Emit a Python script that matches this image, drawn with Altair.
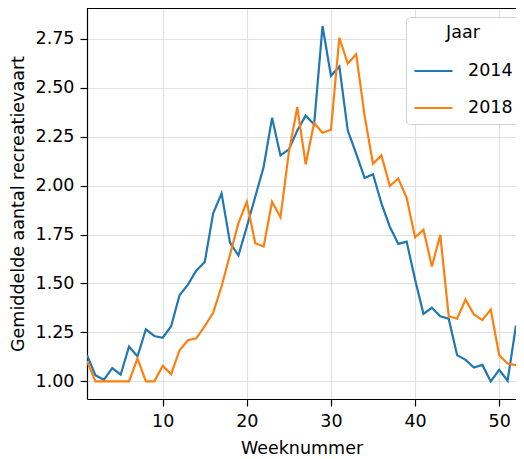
import altair as alt
import pandas as pd

weeks = list(range(1, 53))
y2014 = [1.134, 1.032, 1.008, 1.068, 1.034, 1.178, 1.127, 1.266, 1.232, 1.223,
         1.282, 1.44, 1.494, 1.567, 1.61, 1.858, 1.96, 1.709, 1.643, 1.79,
         1.943, 2.095, 2.346, 2.154, 2.185, 2.281, 2.357, 2.312, 2.815, 2.561,
         2.608, 2.281, 2.163, 2.039, 2.058, 1.909, 1.79, 1.702, 1.714, 1.52,
         1.345, 1.376, 1.333, 1.32, 1.134, 1.11, 1.071, 1.084, 1.0, 1.059,
         1.003, 1.286]
y2018 = [1.105, 1.0, 1.0, 1.0, 1.0, 1.0, 1.117, 1.0, 1.0, 1.079,
         1.037, 1.159, 1.21, 1.22, 1.282, 1.35, 1.486, 1.647, 1.808, 1.917,
         1.706, 1.689, 1.917, 1.838, 2.171, 2.4, 2.109, 2.32, 2.27, 2.285,
         2.755, 2.623, 2.671, 2.357, 2.112, 2.154, 1.998, 2.036, 1.938, 1.736,
         1.774, 1.587, 1.748, 1.333, 1.32, 1.418, 1.342, 1.313, 1.367, 1.134,
         1.091, 1.083]
years = ["2014", "2018"]
colors = ["#1f77b4", "#ff7f0e"]
x_ticks = [10, 20, 30, 40, 50]
y_ticks = [1.0, 1.25, 1.5, 1.75, 2.0, 2.25, 2.5, 2.75]

df = pd.DataFrame({
    "week": weeks * 2,
    "value": y2014 + y2018,
    "Jaar": [years[0]] * len(weeks) + [years[1]] * len(weeks),
})

font = "DejaVu Sans"

lines = alt.Chart(df).mark_line(strokeWidth=2.2, clip=True).encode(
    x=alt.X("week:Q", title="Weeknummer",
            scale=alt.Scale(domain=[1, 52], nice=False, zero=False),
            axis=alt.Axis(values=x_ticks, format="d")),
    y=alt.Y("value:Q", title="Gemiddelde aantal recreatievaart",
            scale=alt.Scale(domain=[0.91, 2.907], nice=False, zero=False),
            axis=alt.Axis(values=y_ticks, format=".2f")),
    color=alt.Color("Jaar:N", scale=alt.Scale(domain=years, range=colors),
                    legend=alt.Legend(title="Jaar", orient="none", legendX=319, legendY=9,
                                      symbolType="stroke", symbolSize=1444, symbolStrokeWidth=2.2,
                                      strokeColor="#d0d0d0", fillColor="white", cornerRadius=4,
                                      padding=7, titleAnchor="middle", titleFontSize=17.5,
                                      titleFontWeight="normal", labelFontSize=17.5,
                                      rowPadding=8, titlePadding=9, labelOffset=14)),
)

top_rule = alt.Chart(df).mark_rule(color="black", strokeWidth=1.2).encode(
    x=alt.value(0), x2=alt.value(429), y=alt.value(0)
)

chart = alt.layer(lines, top_rule).properties(
    width=429, height=391,
    autosize=alt.AutoSizeParams(type="none"),
    padding={"left": 79, "top": 0, "right": 0, "bottom": 58},
).configure_view(
    stroke=None
).configure_axis(
    labelFont=font, titleFont=font, labelFontSize=17.5, titleFontSize=17.5,
    titleFontWeight="normal", labelColor="black", titleColor="black",
    domainColor="black", domainWidth=1.2, tickColor="black", tickSize=7, tickWidth=1.2,
    gridColor="#e0e0e0", gridWidth=1.2, labelPadding=6,
).configure_axisY(titlePadding=8).configure_axisX(titlePadding=10).configure_legend(
    labelFont=font, titleFont=font, labelColor="black", titleColor="black"
)

chart.save("out.html", embed_options={"renderer": "svg", "actions": False})
